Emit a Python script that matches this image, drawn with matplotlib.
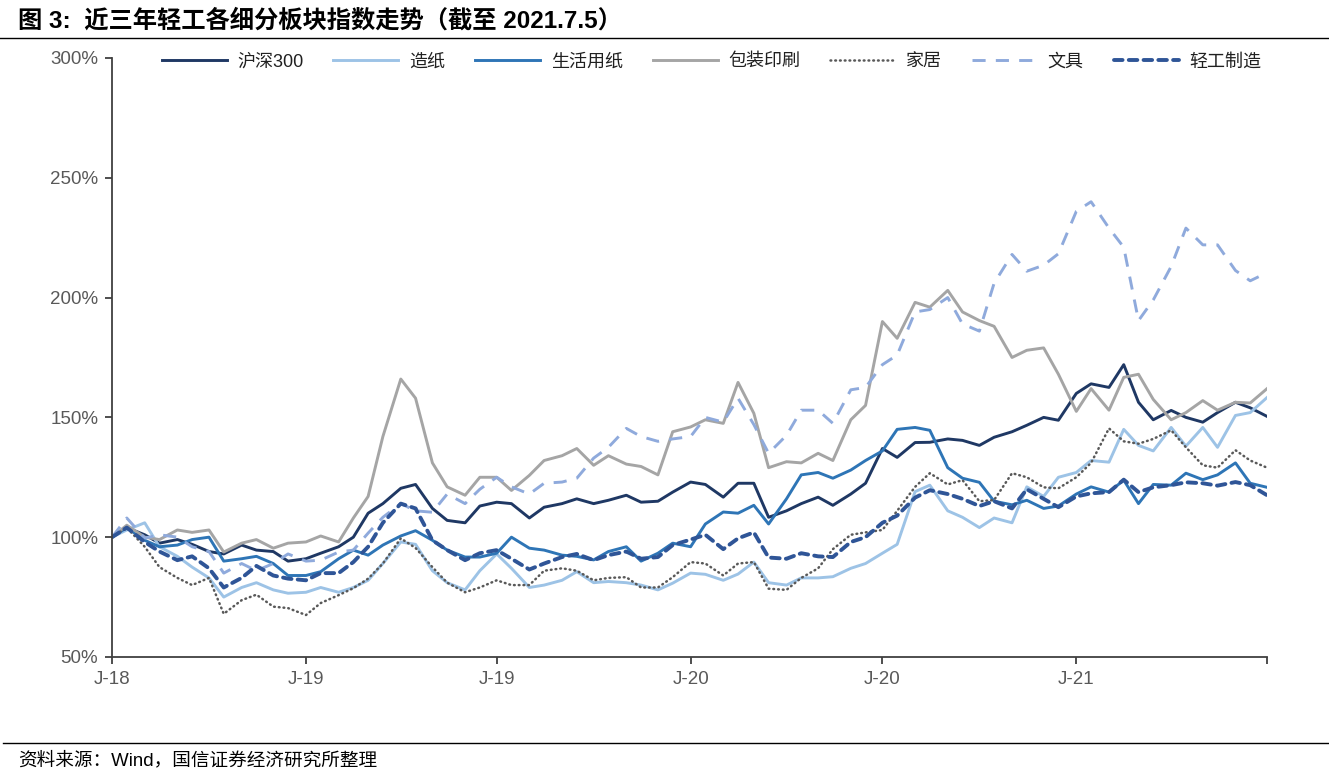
import matplotlib
matplotlib.use("Agg")
import matplotlib.pyplot as plt
import matplotlib.lines as mlines
import numpy as np
import pandas as pd

plt.rcParams['font.family'] = ['Liberation Sans', 'Noto Sans CJK SC', 'DejaVu Sans']

# half-monthly index values, base = 100 at 2018-07
dates = pd.date_range('2018-07-01', periods=73, freq='SMS')

hs300 = [100, 104, 101, 97.5, 99, 97, 94, 93, 96.7, 94.6, 94, 90, 91,
         93.3, 96, 100, 110, 114, 120.4, 122, 112, 107, 106, 113, 114.6, 114,
         108, 112.5, 114, 116, 114, 115.4, 117.5, 114.6, 115, 118.8, 123, 122, 116.7,
         122.5, 122.5, 108.3, 111, 114, 116.7, 113.3, 118, 122.5, 137, 133.3, 139.5,
         139.6, 141, 140.4, 138.3, 141.7, 144, 146.7, 150, 148.8, 160, 164, 162.5,
         172, 156.3, 149, 152.9, 150, 148, 152, 156.3, 154, 150.4]
paper = [100, 103, 106, 96, 92, 87.5, 83, 75, 79, 81, 78, 76.6, 77,
         79, 77, 79, 82, 89, 98, 97, 86, 81, 78, 86, 93, 87,
         79, 80, 82, 85.6, 81, 81.5, 81, 80, 78, 80.8, 85, 84.5, 82,
         84.6, 89.6, 81, 80, 83, 83, 83.5, 87, 89, 93.3, 97, 119,
         121.7, 111, 108.3, 104, 108, 106, 121, 117, 125, 127, 132, 131.3,
         145, 138.3, 136, 145.8, 138, 145.8, 137.5, 150.8, 152, 158.3]
tissue = [100, 104, 98.7, 96, 96.7, 99, 100, 90, 91, 92, 89, 84, 84,
          85.6, 91, 94.6, 92.5, 96.7, 100.5, 102.7, 98.7, 94.6, 91.7, 91.7, 93.3, 100,
          95.4, 94.6, 92.5, 92, 90.5, 94, 96, 90, 93.3, 97.5, 96, 105.5, 110.5,
          110, 113.3, 105.5, 116, 126, 127, 124.6, 128, 132, 136, 145, 145.8,
          144.6, 129, 124.6, 122.9, 115, 113.5, 115.4, 112, 113, 118, 121, 118.8,
          123.8, 114, 122, 121.7, 126.7, 124, 126, 131, 122.5, 120.8]
packaging = [100, 105, 100, 99, 103, 102, 103, 93.8, 97.5, 99, 95.4, 97.5, 98,
             100.5, 98, 108, 117, 142, 166, 158, 131, 121, 117.5, 125, 125, 119.5,
             125.8, 132, 134, 137, 130, 134, 130.5, 129.5, 126, 144, 146, 149, 147.5,
             164.6, 151.7, 129, 131.5, 131, 135, 132, 149, 155, 190, 183, 198,
             196, 203, 194, 190.4, 188, 175, 178, 179, 168, 152.5, 162, 153,
             166.7, 168, 157.5, 149, 152, 157, 153, 156.3, 156, 162]
home = [100, 104, 96, 87.5, 83, 80, 83, 68, 73.7, 76, 71, 70.4, 67.5,
        72.5, 75.8, 78.7, 82.7, 89, 99.5, 95.5, 87.5, 81, 77, 79, 82, 80,
        80, 86, 87, 86, 82, 83, 83.3, 79, 79, 83.3, 89.6, 89, 84,
        89, 89.6, 78.5, 78, 83, 87, 95, 101, 102, 103, 111, 121,
        126.7, 122, 123.8, 115, 115.5, 126.7, 125, 120.8, 120.4, 125, 131, 145.4,
        140, 139, 141, 144.6, 137.5, 130, 129, 136.3, 132, 129]
stationery = [100, 108, 99.6, 101, 100, 96, 94, 85, 89, 86, 89, 93, 90,
              90.4, 93.8, 94.6, 101.7, 108.3, 114, 111, 110.4, 118, 114, 120, 125, 121,
              118, 122.5, 123, 124.6, 133, 137.5, 145.4, 142, 140, 141, 142, 150, 148,
              158, 147, 135, 142.5, 153, 153, 147.5, 161.5, 162.5, 172, 176, 194,
              195, 200, 189, 186, 206, 218, 211, 213.5, 218.3, 236, 240, 229,
              221, 190.4, 199, 213, 229, 222, 222, 211.3, 207, 210.4]
light_ind = [100, 104, 98, 94, 90.4, 92, 87, 79, 83, 88, 84, 82.7, 82,
             85, 85, 89.6, 96, 106, 114, 112, 98.7, 94.6, 90.4, 93.3, 94.6, 91,
             86.5, 89, 91.7, 93, 90.4, 92.5, 94, 91, 91.7, 96.7, 99, 101, 95,
             99.5, 102, 91.5, 91, 93.3, 92, 91.7, 98, 100, 106, 109, 116.5,
             119.6, 118, 116, 113, 115, 112, 120, 116, 112.5, 117, 118.3, 118.8,
             124, 118.8, 120.8, 121.7, 122.9, 122.5, 121.5, 123, 121.7, 117.5]

names = ['沪深300', '造纸', '生活用纸', '包装印刷', '家居', '文具', '轻工制造']
tick_dates = pd.date_range('2018-07-01', '2021-07-01', freq='6MS')
xlabels = ['J-18', 'J-19', 'J-19', 'J-20', 'J-20', 'J-21', '']
yticks = [50, 100, 150, 200, 250, 300]

fig = plt.figure(figsize=(13.29, 7.71), dpi=100)
ax = fig.add_axes([0.0843, 0.1479, 0.8691, 0.7769])

series = [hs300, paper, tissue, packaging, home, stationery, light_ind]
styles = [
    dict(color='#1F3864', lw=2.1, ls='-'),
    dict(color='#9DC3E6', lw=2.1, ls='-'),
    dict(color='#2E75B6', lw=2.1, ls='-'),
    dict(color='#A5A5A5', lw=2.1, ls='-'),
    dict(color='#595959', lw=1.8, ls=(0, (0.3, 1.6)), dash_capstyle='round'),
    dict(color='#8FAADC', lw=2.1, ls=(0, (4.5, 3.5))),
    dict(color='#2F5597', lw=2.8, ls=(0, (2.2, 1.6)), dash_capstyle='round'),
]
for vals, st, nm in zip(series, styles, names):
    ax.plot(dates, vals, label=nm, **st)

ax.set_xlim(tick_dates[0], tick_dates[-1])
ax.set_ylim(50, 300)
ax.set_yticks(yticks)
ax.set_yticklabels([f'{v}%' for v in yticks])
ax.set_xticks(tick_dates)
ax.set_xticklabels(xlabels)

for s in ['top', 'right']:
    ax.spines[s].set_visible(False)
for s in ['left', 'bottom']:
    ax.spines[s].set_color('#404040')
    ax.spines[s].set_linewidth(1.3)
ax.tick_params(axis='both', direction='out', length=5, width=1.3, color='#404040',
               labelsize=13.5, labelcolor='#595959', pad=5)

leg = ax.legend(loc='upper center', bbox_to_anchor=(0.519, 1.035), ncol=7, frameon=False,
                fontsize=13, handlelength=3.6, columnspacing=1.65, handletextpad=0.6)
for t in leg.get_texts():
    t.set_color('#202020')

fig.text(0.0135, 0.973, '图 3:  近三年轻工各细分板块指数走势（截至 2021.7.5）',
         fontsize=17.5, fontweight='bold', va='center', ha='left')
fig.add_artist(mlines.Line2D([0, 1], [0.951, 0.951], transform=fig.transFigure,
                             color='black', lw=1.0))
fig.add_artist(mlines.Line2D([0.002, 1], [0.036, 0.036], transform=fig.transFigure,
                             color='black', lw=1.0))
fig.text(0.0135, 0.014, '资料来源：Wind，国信证券经济研究所整理',
         fontsize=13.4, va='center', ha='left')

fig.savefig('out.png', dpi=100)
